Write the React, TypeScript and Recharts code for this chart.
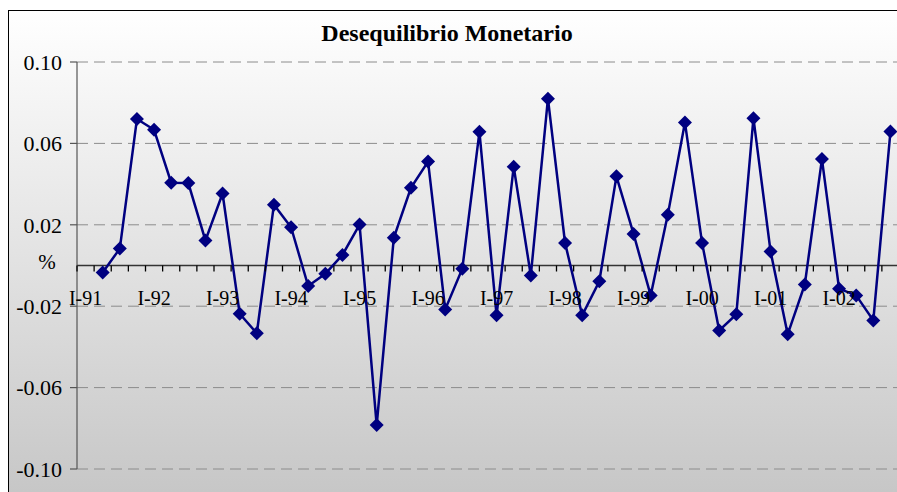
import React from 'react';
import { LineChart, Line, XAxis, YAxis, CartesianGrid, ReferenceLine } from 'recharts';

// quarterly values, I-91 .. IV-02 (first quarter has no observation)
const values: (number | null)[] = [
  null,
  -0.0034, 0.0083, 0.0720, 0.0667,
  0.0407, 0.0405, 0.0123, 0.0354,
  -0.0237, -0.0333, 0.0299, 0.0188,
  -0.0101, -0.0041, 0.0052, 0.0201,
  -0.0784, 0.0136, 0.0382, 0.0511,
  -0.0216, -0.0016, 0.0657, -0.0245,
  0.0485, -0.0049, 0.0820, 0.0111,
  -0.0245, -0.0078, 0.0438, 0.0155,
  -0.0147, 0.0250, 0.0703, 0.0111,
  -0.0319, -0.0240, 0.0724, 0.0069,
  -0.0338, -0.0093, 0.0523, -0.0114,
  -0.0147, -0.0270, 0.0658,
];

const yearLabels = ['I-91', 'I-92', 'I-93', 'I-94', 'I-95', 'I-96', 'I-97', 'I-98', 'I-99', 'I-00', 'I-01', 'I-02'];
const yTicks = [-0.1, -0.06, -0.02, 0, 0.02, 0.06, 0.1];

const data = values.map((v, i) => ({ x: i + 0.5, v }));
const quarterTicks = values.map((_, i) => i).concat(values.length);
const yearTicks = yearLabels.map((_, i) => i * 4 + 0.5);

const CHART_W = 908;
const CHART_H = 492;
const TOP = 62;
const BOTTOM = 21; // plus two 1px x axes
const PLOT_H = CHART_H - TOP - BOTTOM - 2;
const Y_MIN = -0.1;
const Y_MAX = 0.1;
const ZERO_Y = TOP + (PLOT_H * Y_MAX) / (Y_MAX - Y_MIN);
const NAVY = '#000080';
const FONT = '"Liberation Serif", "Times New Roman", serif';

const Diamond = (props: any) => {
  const { cx, cy, payload } = props;
  if (payload == null || payload.v == null || cy == null) return null;
  const r = 7;
  return (
    <polygon
      points={`${cx},${cy - r} ${cx + r},${cy} ${cx},${cy + r} ${cx - r},${cy}`}
      fill={NAVY}
    />
  );
};

const QuarterTick = (props: any) => {
  const { x } = props;
  return (
    <g>
      <line x1={x} x2={x} y1={ZERO_Y} y2={ZERO_Y + 6} stroke="#000" strokeWidth={1.3} />
    </g>
  );
};

const YearTick = (props: any) => {
  const { x, payload } = props;
  const idx = Math.round((payload.value - 0.5) / 4);
  return (
    <text x={x} y={ZERO_Y + 39} textAnchor="middle" fontFamily={FONT} fontSize={20} fill="#000">
      {yearLabels[idx]}
    </text>
  );
};

const YTick = (props: any) => {
  const { x, y, payload } = props;
  if (payload.value === 0) {
    return (
      <text x={x - 30} y={y + 3} textAnchor="middle" fontFamily={FONT} fontSize={21} fill="#000">
        %
      </text>
    );
  }
  return (
    <g>
      <line x1={x - 7} x2={x} y1={y} y2={y} stroke="#555" strokeWidth={1.2} />
      <text x={x - 15} y={y} dy="0.35em" textAnchor="end" fontFamily={FONT} fontSize={22} fill="#000">
        {payload.value.toFixed(2)}
      </text>
    </g>
  );
};

export default function App() {
  return (
    <div style={{ position: 'relative', width: 897, height: 492, overflow: 'hidden' }}>
      <style>{'html,body{margin:0;padding:0;overflow:hidden;}'}</style>
      <div
        style={{
          position: 'absolute',
          left: 8,
          top: 10,
          width: 920,
          height: 500,
          border: '1.5px solid #000',
          background: 'linear-gradient(#ffffff, #c5c5c5)',
          boxSizing: 'border-box',
        }}
      />
      <svg width={897} height={60} style={{ position: 'absolute', left: 0, top: 0 }}>
        <text x={447} y={41} textAnchor="middle" fontFamily={FONT} fontWeight="bold" fontSize={24} fill="#000">
          Desequilibrio Monetario
        </text>
      </svg>
      <div style={{ position: 'absolute', left: 0, top: 0 }}>
        <LineChart
          width={CHART_W}
          height={CHART_H}
          data={data}
          margin={{ top: TOP, right: 9, left: 17, bottom: BOTTOM }}
        >
          <CartesianGrid vertical={false} stroke="#8c8c8c" strokeDasharray="11 6" />
          <XAxis
            xAxisId="q"
            type="number"
            dataKey="x"
            domain={[0, values.length]}
            ticks={quarterTicks}
            interval={0}
            minTickGap={0}
            height={1}
            axisLine={false}
            tickLine={false}
            tick={<QuarterTick />}
          />
          <XAxis
            xAxisId="yr"
            type="number"
            dataKey="x"
            domain={[0, values.length]}
            ticks={yearTicks}
            interval={0}
            minTickGap={0}
            height={1}
            axisLine={false}
            tickLine={false}
            tick={<YearTick />}
          />
          <YAxis
            type="number"
            domain={[Y_MIN, Y_MAX]}
            ticks={yTicks}
            interval={0}
            width={60}
            axisLine={{ stroke: '#555', strokeWidth: 1.2 }}
            tickLine={false}
            tickMargin={0}
            tickSize={0}
            tick={<YTick />}
          />
          <ReferenceLine xAxisId="q" y={0} stroke="#333" strokeWidth={1.5} />
          <Line
            xAxisId="q"
            type="linear"
            dataKey="v"
            stroke={NAVY}
            strokeWidth={2.5}
            dot={<Diamond />}
            activeDot={false}
            connectNulls={false}
            isAnimationActive={false}
          />
        </LineChart>
      </div>
    </div>
  );
}
